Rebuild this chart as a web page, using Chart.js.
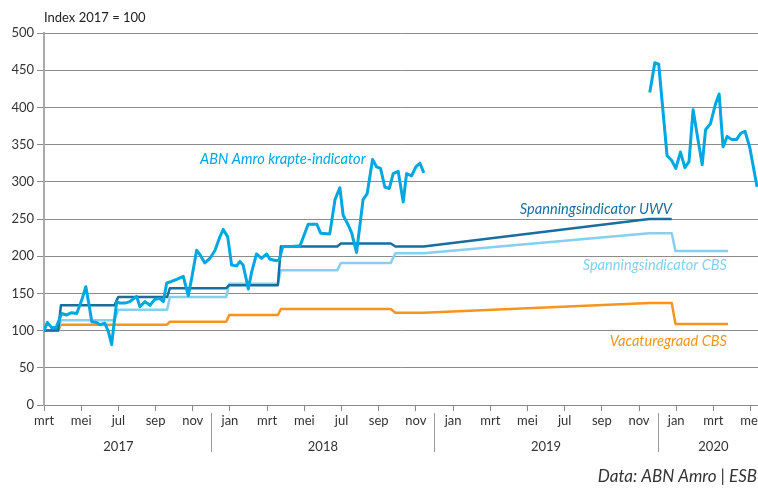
<!DOCTYPE html>
<html>
<head>
<meta charset="utf-8">
<script src="https://cdn.jsdelivr.net/npm/chart.js@4/dist/chart.umd.min.js"></script>
<style>
  html, body { margin: 0; padding: 0; background: #fff; }
  #wrap { width: 758px; height: 493px; }
</style>
</head>
<body>
<div id="wrap"><canvas id="chart" width="758" height="493"></canvas></div>
<script>
// x values are months since March 2017 (0 = mrt 2017)
const monthLabels = ['mrt','mei','jul','sep','nov','jan','mrt','mei','jul','sep','nov','jan','mrt','mei','jul','sep','nov','jan','mrt','mei'];
const yearLabels = ['2017', '2018', '2019', '2020'];
const yearCenters = [4, 15, 27, 36];
const yearBreaks = [9, 21, 33];
const yTicks = [0, 50, 100, 150, 200, 250, 300, 350, 400, 450, 500];

// ABN Amro krapte-indicator (gap in 2019)
const abnMonths = [0, 0.18, 0.41, 0.65, 0.95, 1.22, 1.49, 1.76, 2.03, 2.25, 2.44, 2.57, 2.83, 3.01, 3.27, 3.46, 3.64, 3.76, 3.91,
  4.08, 4.36, 4.62, 4.98, 5.16, 5.43, 5.70, 5.96, 6.24, 6.42, 6.60, 6.86, 7.14, 7.49, 7.76, 7.94, 8.21, 8.39, 8.65, 8.92,
  9.20, 9.46, 9.64, 9.88, 10.09, 10.36, 10.54, 10.71, 10.99, 11.17, 11.43, 11.70, 11.98, 12.15, 12.51, 12.65, 12.84, 13.32,
  13.77, 14.21, 14.67, 14.88, 15.37, 15.65, 15.91, 16.09, 16.36, 16.55, 16.81, 17.16, 17.38, 17.67, 17.89, 18.10, 18.33,
  18.57, 18.78, 19.05, 19.32, 19.50, 19.77, 20.00, 20.22, 20.43,
  26,
  32.58, 32.85, 33.06, 33.51, 33.75, 33.98, 34.23, 34.47, 34.69, 34.91, 35.17, 35.40, 35.58, 35.84, 36.12, 36.31, 36.52,
  36.74, 36.97, 37.25, 37.47, 37.70, 37.95, 38.35];
const abnValues = [100, 111, 104, 104, 123, 121, 124, 123, 141, 159, 132, 112, 111, 108, 110, 99, 81, 108, 139,
  137, 137, 139, 146, 132, 139, 134, 142, 143, 139, 164, 166, 169, 173, 147, 170, 208, 202, 191, 197,
  208, 226, 236, 226, 188, 187, 193, 188, 156, 179, 203, 197, 203, 196, 194, 195, 213, 213,
  214, 243, 243, 231, 230, 276, 292, 255, 242, 231, 205, 276, 284, 330, 320, 318, 293,
  291, 311, 314, 273, 311, 308, 320, 325, 312,
  null,
  420, 460, 458, 335, 329, 318, 340, 319, 327, 397, 357, 323, 370, 378, 405, 418, 347,
  361, 357, 357, 365, 368, 347, 293];

// Spanningsindicator UWV
const uwvMonths = [0, 0.76, 0.91, 3.79, 3.99, 6.62, 6.77, 9.80, 9.96, 12.58, 12.74, 15.77, 15.97, 18.65, 18.9, 20.42, 32.55, 33.76];
const uwvValues = [100, 100, 134, 134, 145, 145, 157, 157, 161, 161, 213, 213, 217, 217, 213, 213, 250, 250];

// Spanningsindicator CBS
const cbsMonths = [0, 0.76, 0.91, 3.79, 3.99, 6.62, 6.77, 9.80, 9.96, 12.58, 12.74, 15.77, 15.97, 18.65, 18.9, 20.42, 32.55, 33.76, 33.96, 36.79];
const cbsValues = [100, 100, 114, 114, 128, 128, 145, 145, 163, 163, 181, 181, 191, 191, 204, 204, 231, 231, 207, 207];

// Vacaturegraad CBS
const vacMonths = [0, 0.76, 0.91, 6.62, 6.77, 9.80, 9.96, 12.58, 12.74, 18.65, 18.9, 20.42, 32.55, 33.76, 33.96, 36.79];
const vacValues = [100, 100, 108, 108, 112, 112, 121, 121, 129, 129, 124, 124, 137, 137, 109, 109];

const pts = (xs, ys) => xs.map((x, i) => ({ x: x, y: ys[i] }));

const FONT = 'Lato, "Open Sans", sans-serif';

const extras = {
  id: 'extras',
  afterDraw(chart) {
    const ctx = chart.ctx;
    const xs = chart.scales.x;
    ctx.save();
    ctx.fillStyle = '#222';
    ctx.font = '13px ' + FONT;
    ctx.textBaseline = 'middle';
    ctx.textAlign = 'left';
    ctx.fillText('Index 2017 = 100', 44, 18);

    // year separators and labels
    ctx.strokeStyle = '#999';
    ctx.lineWidth = 1;
    yearBreaks.forEach(m => {
      const x = Math.round(xs.getPixelForValue(m)) + 0.5;
      ctx.beginPath();
      ctx.moveTo(x, 413);
      ctx.lineTo(x, 452);
      ctx.stroke();
    });
    ctx.fillStyle = '#333';
    ctx.textAlign = 'center';
    yearLabels.forEach((t, i) => ctx.fillText(t, xs.getPixelForValue(yearCenters[i]), 447));

    // series labels
    ctx.font = 'italic 14.6px ' + FONT;
    ctx.textAlign = 'left';
    ctx.fillStyle = '#00a7e1';
    ctx.fillText('ABN Amro krapte-indicator', 200, 159);
    ctx.textAlign = 'right';
    ctx.fillStyle = '#1b6d9c';
    ctx.fillText('Spanningsindicator UWV', 672, 209);
    ctx.fillStyle = '#86cff0';
    ctx.fillText('Spanningsindicator CBS', 727, 265);
    ctx.fillStyle = '#f7941d';
    ctx.fillText('Vacaturegraad CBS', 727, 341);

    // source
    ctx.fillStyle = '#333';
    ctx.font = 'italic 17px ' + FONT;
    ctx.fillText('Data: ABN Amro | ESB', 757, 477);
    ctx.restore();
  }
};

new Chart(document.getElementById('chart'), {
  type: 'line',
  data: {
    datasets: [
      { label: 'ABN Amro krapte-indicator', data: pts(abnMonths, abnValues), borderColor: '#00a7e1', borderWidth: 3, spanGaps: false },
      { label: 'Spanningsindicator UWV', data: pts(uwvMonths, uwvValues), borderColor: '#1b6d9c', borderWidth: 2.5 },
      { label: 'Spanningsindicator CBS', data: pts(cbsMonths, cbsValues), borderColor: '#86cff0', borderWidth: 2.5 },
      { label: 'Vacaturegraad CBS', data: pts(vacMonths, vacValues), borderColor: '#f7941d', borderWidth: 2.5 }
    ]
  },
  options: {
    responsive: false,
    animation: false,
    layout: { padding: { top: 33, left: 0, right: 0, bottom: 0 } },
    elements: {
      point: { radius: 0 },
      line: { tension: 0, borderJoinStyle: 'round', borderCapStyle: 'butt', fill: false }
    },
    plugins: { legend: { display: false }, tooltip: { enabled: false } },
    scales: {
      x: {
        type: 'linear',
        min: 0,
        max: 38.4,
        afterBuildTicks: s => { s.ticks = monthLabels.map((_, i) => ({ value: i * 2 })); },
        afterFit: s => { s.height = 88; s.paddingLeft = 0; s.paddingRight = 0; },
        ticks: {
          autoSkip: false,
          maxRotation: 0,
          padding: 2,
          color: '#333',
          font: { family: FONT, size: 13 },
          callback: (v, i) => monthLabels[i]
        },
        grid: { drawOnChartArea: false, drawTicks: true, tickLength: 6, color: '#888' },
        border: { display: true, color: '#888', width: 1 }
      },
      y: {
        min: 0,
        max: 500,
        afterBuildTicks: s => { s.ticks = yTicks.map(v => ({ value: v })); },
        afterFit: s => { s.width = 44; },
        ticks: { padding: 3, color: '#333', font: { family: FONT, size: 13 } },
        grid: { color: '#8c8c8c', tickLength: 7 },
        border: { display: true, color: '#aaa', width: 2 }
      }
    }
  },
  plugins: [extras]
});
</script>
</body>
</html>
